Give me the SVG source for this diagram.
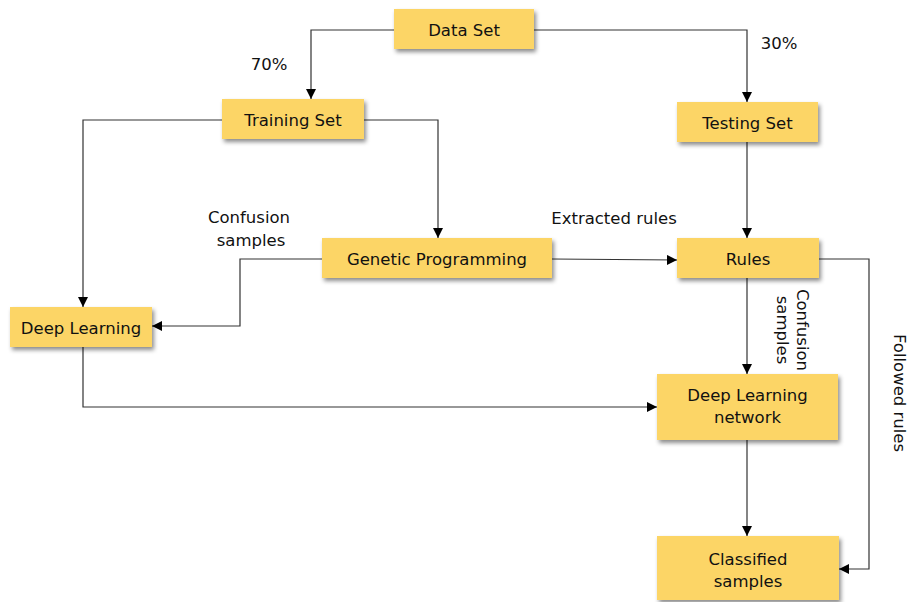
<svg xmlns="http://www.w3.org/2000/svg" width="911" height="602" viewBox="0 0 911 602">
  <style>
    .box { fill: #FCD566; filter: url(#shadow); }
    .lbl { font-family: "DejaVu Sans", Verdana, sans-serif; font-size: 16.5px; fill: #111; text-anchor: middle; }
    .edge { fill: none; stroke: #333; stroke-width: 1.2; marker-end: url(#arrow); }
  </style>
  <defs>
    <filter id="shadow" x="-10%" y="-20%" width="130%" height="150%">
      <feDropShadow dx="2" dy="3" stdDeviation="2" flood-color="#000" flood-opacity="0.45"/>
    </filter>
    <marker id="arrow" viewBox="0 0 10 10" refX="10" refY="5" markerWidth="10" markerHeight="10" markerUnits="userSpaceOnUse" orient="auto">
      <path d="M0,0 L10,5 L0,10 z" fill="#000"/>
    </marker>
  </defs>

  <g id="connectors">
    <path class="edge" d="M394,30 H311 V99"/>
    <path class="edge" d="M534,30 H747 V102"/>
    <path class="edge" d="M222,120 H83 V307"/>
    <path class="edge" d="M364,120 H438 V238"/>
    <path class="edge" d="M322,259 H240 V326 H152"/>
    <path class="edge" d="M552,259 L677,260"/>
    <path class="edge" d="M747,142 V238"/>
    <path class="edge" d="M747,278 V374"/>
    <path class="edge" d="M819,259 H869 V569 H839"/>
    <path class="edge" d="M83,347 V407 H657"/>
    <path class="edge" d="M747,440 V536"/>
  </g>

  <g id="edge-labels">
    <text class="lbl" x="269" y="70">70%</text>
    <text class="lbl" x="779" y="49">30%</text>
    <text class="lbl" x="249" y="223">Confusion</text>
    <text class="lbl" x="251" y="246">samples</text>
    <text class="lbl" x="614" y="224">Extracted rules</text>
    <g transform="translate(797,330) rotate(90)">
      <text class="lbl" x="0" y="0">Confusion</text>
      <text class="lbl" x="0" y="20">samples</text>
    </g>
    <text class="lbl" transform="translate(894,393) rotate(90)">Followed rules</text>
  </g>

  <g id="data-set">
    <rect class="box" x="394" y="9" width="140" height="40"/>
    <text class="lbl" x="464" y="36">Data Set</text>
  </g>
  <g id="training-set">
    <rect class="box" x="222" y="99" width="142" height="40"/>
    <text class="lbl" x="293" y="126">Training Set</text>
  </g>
  <g id="testing-set">
    <rect class="box" x="677" y="102" width="141" height="40"/>
    <text class="lbl" x="747.5" y="129">Testing Set</text>
  </g>
  <g id="genetic-programming">
    <rect class="box" x="322" y="238" width="230" height="40"/>
    <text class="lbl" x="437" y="265">Genetic Programming</text>
  </g>
  <g id="rules">
    <rect class="box" x="677" y="238" width="142" height="40"/>
    <text class="lbl" x="748" y="265">Rules</text>
  </g>
  <g id="deep-learning">
    <rect class="box" x="10" y="307" width="142" height="40"/>
    <text class="lbl" x="81" y="334">Deep Learning</text>
  </g>
  <g id="deep-learning-network">
    <rect class="box" x="657" y="374" width="181" height="66"/>
    <text class="lbl" x="747.5" y="401">Deep Learning</text>
    <text class="lbl" x="747.5" y="423">network</text>
  </g>
  <g id="classified-samples">
    <rect class="box" x="657" y="536" width="182" height="64"/>
    <text class="lbl" x="748" y="565">Classified</text>
    <text class="lbl" x="748" y="587">samples</text>
  </g>
</svg>
